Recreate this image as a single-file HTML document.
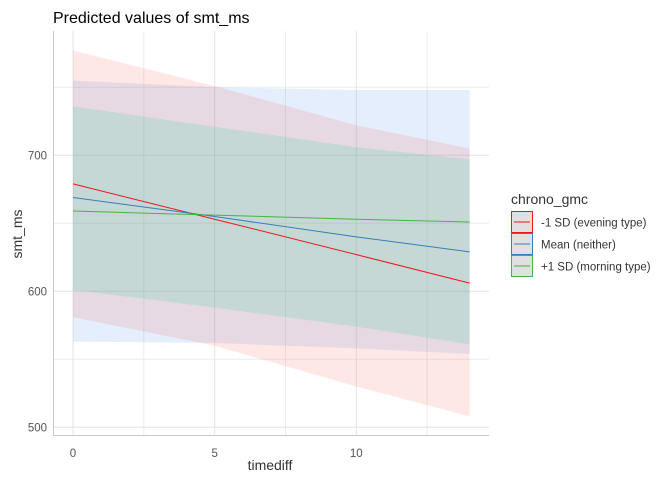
<!DOCTYPE html>
<html><head><meta charset="utf-8"><style>
body{margin:0;background:#fff;font-family:"Liberation Sans",sans-serif}
svg text{font-family:"Liberation Sans",sans-serif}
</style></head><body>
<svg width="672" height="480" viewBox="0 0 672 480">
<g id="grid"></g>
<g id="bands"></g>
<g id="lines"></g>
<g id="axes"></g>
<text x="53" y="23" font-size="16" fill="#000">Predicted values of smt_ms</text>
<text x="270" y="470" font-size="14" fill="#333" text-anchor="middle">timediff</text>
<text transform="translate(22,234) rotate(-90)" font-size="14" fill="#333" text-anchor="middle">smt_ms</text>
<g>
<text x="511" y="204" font-size="14" fill="#333">chrono_gmc</text>
<g>
<rect x="511.5" y="211.5" width="21" height="21" fill="#e0e0e0" stroke="#e41a1c"/>
<line x1="514" x2="530" y1="222" y2="222" stroke="#e41a1c"/>
<text x="541" y="226.5" font-size="11.5" fill="#333">-1 SD (evening type)</text></g>
<g>
<rect x="511.5" y="233.5" width="21" height="21" fill="#e0e0e0" stroke="#377eb8"/>
<line x1="514" x2="530" y1="244" y2="244" stroke="#377eb8"/>
<text x="541" y="248.5" font-size="11.5" fill="#333">Mean (neither)</text></g>
<g>
<rect x="511.5" y="255.5" width="21" height="21" fill="#e0e0e0" stroke="#4daf4a"/>
<line x1="514" x2="530" y1="266" y2="266" stroke="#4daf4a"/>
<text x="541" y="270.5" font-size="11.5" fill="#333">+1 SD (morning type)</text></g>
</g>
</svg>
<script>
const xs = [0, 5, 10, 14];
const redFit = [679, 653, 627, 606];
const redUpper = [777, 751, 722, 705];
const redLower = [581, 560, 530, 508];
const blueFit = [669, 655, 640, 629];
const blueUpper = [755, 750, 748, 748];
const blueLower = [563, 562, 558, 554];
const greenFit = [659, 656, 653, 651];
const greenUpper = [736, 721, 706, 697];
const greenLower = [601, 588, 574, 561];
const xTicks = [0, 5, 10];
const yTicks = [500, 600, 700];
const NS = "http://www.w3.org/2000/svg";
const X = v => 73 + v * 28.33;
const Y = v => 155.3 + (700 - v) * 1.36;
function mk(tag, parent, attrs){const e=document.createElementNS(NS,tag);for(const k in attrs)e.setAttribute(k,attrs[k]);parent.appendChild(e);return e;}
const grid=document.getElementById('grid'), bands=document.getElementById('bands'), lines=document.getElementById('lines'), axes=document.getElementById('axes');
[2.5,7.5,12.5].forEach(v=>{const l=mk('line',grid,{x1:X(v),x2:X(v),y1:31,y2:435,stroke:'#ececec','stroke-width':1});

});
[550,650,750].forEach(v=>{const l=mk('line',grid,{x1:53,x2:489,y1:Y(v),y2:Y(v),stroke:'#ececec','stroke-width':1});

});
xTicks.forEach(v=>{const l=mk('line',grid,{x1:X(v),x2:X(v),y1:31,y2:435,stroke:'#e4e4e4','stroke-width':1});


const t=mk('text',axes,{x:X(v),y:457,'font-size':11.5,fill:'#555','text-anchor':'middle'});t.textContent=v;

});
yTicks.forEach(v=>{const l=mk('line',grid,{x1:53,x2:489,y1:Y(v),y2:Y(v),stroke:'#e4e4e4','stroke-width':1});


const t=mk('text',axes,{x:47,y:Y(v)+4,'font-size':11.5,fill:'#555','text-anchor':'end'});t.textContent=v;

});
const ax1=mk('line',axes,{x1:53.5,x2:53.5,y1:31,y2:435,stroke:'#c8c8c8'});


const ax2=mk('line',axes,{x1:53,x2:489,y1:435.5,y2:435.5,stroke:'#c8c8c8'});


function band(up,lo,color,name){
  const pts=xs.map((x,i)=>X(x)+','+Y(up[i])).concat(xs.slice().reverse().map((x,j)=>{const i=xs.length-1-j;return X(x)+','+Y(lo[i]);}));
  const p=mk('polygon',bands,{points:pts.join(' '),fill:color,'fill-opacity':0.15});
  
  
}
band(blueUpper,blueLower,'#528eeb','band-mean');
band(redUpper,redLower,'#f26658','band-evening');
band(greenUpper,greenLower,'#04d58c','band-morning');
function line(fit,color,name){
  const p=mk('polyline',lines,{points:xs.map((x,i)=>X(x)+','+Y(fit[i])).join(' '),fill:'none',stroke:color,'stroke-width':1});
  
  
}
line(redFit,'#e41a1c','line-evening');
line(blueFit,'#377eb8','line-mean');
line(greenFit,'#4daf4a','line-morning');
</script>
</body></html>
